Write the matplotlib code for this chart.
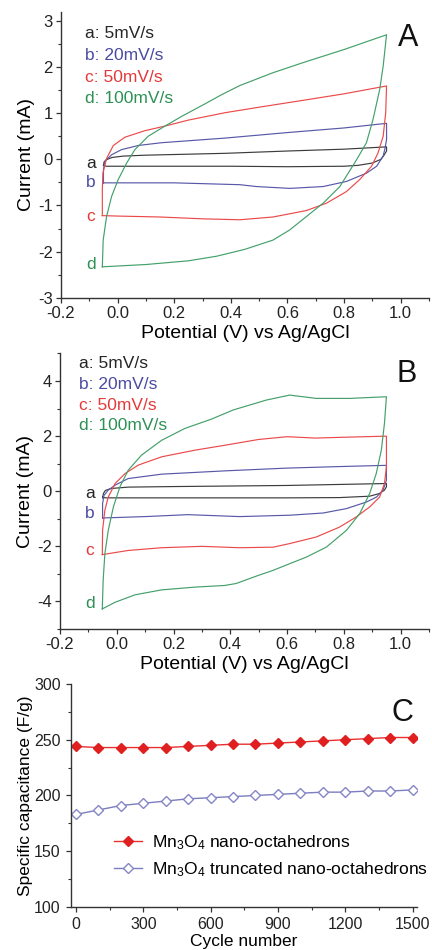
import matplotlib
matplotlib.use("Agg")
import matplotlib.pyplot as plt
from matplotlib.ticker import MultipleLocator
import numpy as np

plt.rcParams['font.family'] = ['Liberation Sans', 'DejaVu Sans']
plt.rcParams['mathtext.fontset'] = 'custom'
plt.rcParams['mathtext.rm'] = 'Liberation Sans'
plt.rcParams['mathtext.it'] = 'Liberation Sans'

# ---------------- Panel A data (potential V, current mA) ----------------
A_a_fwd_v = [-0.05, -0.048, -0.04, -0.02, 0.02, 0.1, 0.38, 0.6, 0.8, 0.95]
A_a_fwd_i = [-0.13, -0.06, -0.01, 0.04, 0.07, 0.09, 0.13, 0.18, 0.22, 0.27]
A_a_rev_v = [0.95, 0.95, 0.94, 0.93, 0.90, 0.85, 0.8, 0.6, 0.4, 0.2, 0.0, -0.04, -0.05]
A_a_rev_i = [0.27, 0.18, 0.08, 0.0, -0.08, -0.13, -0.15, -0.16, -0.15, -0.15, -0.15, -0.15, -0.13]

A_b_fwd_v = [-0.05, -0.05, -0.045, -0.021, 0.014, 0.073, 0.155, 0.379, 0.6, 0.8, 0.95]
A_b_fwd_i = [-0.51, -0.22, -0.04, 0.10, 0.21, 0.30, 0.36, 0.46, 0.58, 0.68, 0.78]
A_b_rev_v = [0.95, 0.95, 0.945, 0.938, 0.915, 0.879, 0.808, 0.726, 0.608, 0.49, 0.432, 0.2, 0.0, -0.05]
A_b_rev_i = [0.78, 0.43, 0.25, 0.07, -0.15, -0.30, -0.48, -0.59, -0.63, -0.59, -0.55, -0.51, -0.51, -0.51]

A_c_fwd_v = [-0.054, -0.054, -0.052, -0.039, -0.015, 0.026, 0.096, 0.167, 0.25, 0.379, 0.5, 0.667, 0.8, 0.95]
A_c_fwd_i = [-1.22, -0.66, -0.30, 0.02, 0.30, 0.48, 0.62, 0.72, 0.85, 1.01, 1.13, 1.29, 1.42, 1.59]
A_c_rev_v = [0.95, 0.947, 0.938, 0.92, 0.897, 0.855, 0.808, 0.738, 0.667, 0.549, 0.432, 0.3, 0.15, 0.0, -0.054]
A_c_rev_i = [1.59, 1.01, 0.50, 0.14, -0.15, -0.44, -0.70, -0.95, -1.11, -1.25, -1.31, -1.29, -1.25, -1.23, -1.22]

A_d_fwd_v = [-0.054, -0.051, -0.039, -0.021, 0.002, 0.032, 0.061, 0.108, 0.167, 0.226, 0.308, 0.367, 0.432, 0.55, 0.667, 0.8, 0.95]
A_d_fwd_i = [-2.33, -1.75, -1.24, -0.80, -0.44, -0.08, 0.21, 0.50, 0.72, 0.93, 1.20, 1.40, 1.60, 1.88, 2.12, 2.38, 2.70]
A_d_rev_v = [0.95, 0.938, 0.926, 0.902, 0.879, 0.844, 0.785, 0.726, 0.667, 0.608, 0.549, 0.45, 0.35, 0.25, 0.1, -0.054]
A_d_rev_i = [2.70, 2.02, 1.52, 0.86, 0.36, -0.01, -0.59, -0.95, -1.24, -1.53, -1.75, -1.95, -2.10, -2.20, -2.28, -2.33]

# ---------------- Panel B data ----------------
B_a_fwd_v = [-0.05, -0.047, -0.04, -0.02, 0.04, 0.2, 0.4, 0.6, 0.8, 0.95]
B_a_fwd_i = [-0.24, -0.08, 0.03, 0.10, 0.15, 0.17, 0.19, 0.21, 0.25, 0.28]
B_a_rev_v = [0.95, 0.95, 0.943, 0.926, 0.891, 0.785, 0.6, 0.4, 0.2, 0.0, -0.04, -0.05]
B_a_rev_i = [0.28, 0.16, 0.04, -0.08, -0.18, -0.23, -0.24, -0.24, -0.24, -0.24, -0.24, -0.22]

B_b_fwd_v = [-0.05, -0.05, -0.045, -0.03, -0.006, 0.04, 0.158, 0.381, 0.6, 0.8, 0.95]
B_b_fwd_i = [-0.97, -0.45, -0.15, 0.04, 0.22, 0.46, 0.62, 0.74, 0.84, 0.90, 0.94]
B_b_rev_v = [0.95, 0.95, 0.938, 0.915, 0.88, 0.809, 0.727, 0.609, 0.433, 0.25, 0.1, -0.05]
B_b_rev_i = [0.94, 0.40, 0.04, -0.21, -0.39, -0.63, -0.79, -0.87, -0.92, -0.85, -0.92, -0.97]

B_c_fwd_v = [-0.051, -0.05, -0.042, -0.03, -0.006, 0.029, 0.076, 0.158, 0.275, 0.381, 0.5, 0.6, 0.7, 0.8, 0.95]
B_c_fwd_i = [-2.30, -1.42, -0.69, -0.21, 0.28, 0.64, 0.95, 1.25, 1.49, 1.67, 1.88, 1.98, 1.93, 1.96, 2.0]
B_c_rev_v = [0.95, 0.95, 0.943, 0.926, 0.891, 0.844, 0.785, 0.703, 0.609, 0.551, 0.433, 0.3, 0.158, 0.04, -0.051]
B_c_rev_i = [2.0, 0.88, 0.28, -0.21, -0.57, -0.93, -1.30, -1.66, -1.90, -2.03, -2.05, -2.0, -2.05, -2.15, -2.30]

B_d_fwd_v = [-0.051, -0.048, -0.042, -0.03, -0.012, 0.011, 0.04, 0.087, 0.158, 0.24, 0.334, 0.41, 0.527, 0.609, 0.703, 0.821, 0.95]
B_d_fwd_i = [-4.27, -3.24, -2.27, -1.42, -0.57, 0.16, 0.76, 1.31, 1.85, 2.28, 2.62, 2.95, 3.31, 3.49, 3.37, 3.37, 3.43]
B_d_rev_v = [0.95, 0.943, 0.932, 0.914, 0.891, 0.856, 0.809, 0.738, 0.668, 0.609, 0.551, 0.5, 0.42, 0.38, 0.275, 0.158, 0.064, -0.006, -0.051]
B_d_rev_i = [3.43, 2.46, 1.49, 0.64, -0.08, -0.81, -1.42, -2.03, -2.39, -2.63, -2.87, -3.05, -3.35, -3.42, -3.48, -3.58, -3.76, -4.03, -4.27]

rate_labels = ['a: 5mV/s', 'b: 20mV/s', 'c: 50mV/s', 'd: 100mV/s']
curve_letters = ['a', 'b', 'c', 'd']
A_letter_i = [-0.09, -0.5, -1.24, -2.29]
B_letter_i = [-0.08, -0.79, -2.15, -4.08]

# ---------------- Panel C data ----------------
cycles = [0, 100, 200, 300, 400, 500, 600, 700, 800, 900, 1000, 1100, 1200, 1300, 1400, 1500]
cap_octa = [244, 243, 243, 243, 243, 244, 245, 246, 246, 247, 248, 249, 250, 251, 252, 252]
cap_trunc = [183, 187, 191, 193, 195, 197, 198, 199, 200, 201, 202, 203, 203, 204, 204, 205]
legend_labels = [r'Mn$_{3}$O$_{4}$ nano-octahedrons', r'Mn$_{3}$O$_{4}$ truncated nano-octahedrons']

line_colors = ['#3c3c3c', '#5858a8', '#ec4a4a', '#44a06a']
text_colors = ['#262626', '#4a4aa2', '#e23a3a', '#2e9055']
spine_col = '#333333'

fig = plt.figure(figsize=(4.32, 9.50), dpi=100)

def style_axes(ax):
    for s in ['top', 'right']:
        ax.spines[s].set_visible(False)
    for s in ['left', 'bottom']:
        ax.spines[s].set_color(spine_col)
        ax.spines[s].set_linewidth(1.0)
    ax.tick_params(which='both', direction='out', colors=spine_col, labelcolor='#222222')
    ax.tick_params(which='major', length=3.5, width=0.9, pad=2.5, labelsize=12)
    ax.tick_params(which='minor', length=2.2, width=0.8)

def cv_panel(rect, curves, ylim, ymaj, ymin, letter_i, legend_xy, legend_dy, panel_letter, panel_xy):
    ax = fig.add_axes(rect)
    style_axes(ax)
    for k, (fv, fi, rv, ri) in enumerate(curves):
        ax.plot(list(fv) + list(rv), list(fi) + list(ri), color=line_colors[k], lw=0.85)
        ax.text(-0.095, letter_i[k], curve_letters[k], color=text_colors[k], fontsize=12.5,
                ha='center', va='center')
        ax.text(legend_xy[0], legend_xy[1] - k * legend_dy, rate_labels[k], color=text_colors[k],
                fontsize=12.5, ha='left', va='center')
    ax.text(panel_xy[0], panel_xy[1], panel_letter, fontsize=22, ha='center', va='center', color='#111111')
    ax.set_xlim(-0.2, 1.1)
    ax.set_ylim(*ylim)
    ax.xaxis.set_major_locator(MultipleLocator(0.2))
    ax.xaxis.set_minor_locator(MultipleLocator(0.1))
    ax.yaxis.set_major_locator(MultipleLocator(ymaj))
    ax.yaxis.set_minor_locator(MultipleLocator(ymin))
    ax.set_xticks([-0.2, 0.0, 0.2, 0.4, 0.6, 0.8, 1.0])
    ax.set_xticklabels(['-0.2', '0.0', '0.2', '0.4', '0.6', '0.8', '1.0'])
    ax.set_xlabel('Potential (V) vs Ag/AgCl', fontsize=14, labelpad=3)
    ax.set_ylabel('Current (mA)', fontsize=14, labelpad=2)
    return ax

axA = cv_panel([0.1412, 0.6866, 0.8519, 0.3011],
               [(A_a_fwd_v, A_a_fwd_i, A_a_rev_v, A_a_rev_i),
                (A_b_fwd_v, A_b_fwd_i, A_b_rev_v, A_b_rev_i),
                (A_c_fwd_v, A_c_fwd_i, A_c_rev_v, A_c_rev_i),
                (A_d_fwd_v, A_d_fwd_i, A_d_rev_v, A_d_rev_i)],
               (-3, 3.2), 1, 0.5, A_letter_i, (-0.115, 2.72), 0.47, 'A', (1.025, 2.62))
axA.set_yticks([-3, -2, -1, 0, 1, 2, 3])
axA.set_yticklabels(['-3', '-2', '-1', '0', '1', '2', '3'])

axB = cv_panel([0.1389, 0.3379, 0.8542, 0.2900],
               [(B_a_fwd_v, B_a_fwd_i, B_a_rev_v, B_a_rev_i),
                (B_b_fwd_v, B_b_fwd_i, B_b_rev_v, B_b_rev_i),
                (B_c_fwd_v, B_c_fwd_i, B_c_rev_v, B_c_rev_i),
                (B_d_fwd_v, B_d_fwd_i, B_d_rev_v, B_d_rev_i)],
               (-5, 5), 2, 1, B_letter_i, (-0.133, 4.62), 0.75, 'B', (1.02, 4.25))
axB.set_yticks([-4, -2, 0, 2, 4])
axB.set_yticklabels(['-4', '-2', '0', '2', '4'])

# ---------------- Panel C ----------------
axC = fig.add_axes([0.1644, 0.0453, 0.8009, 0.2347])
style_axes(axC)
axC.tick_params(which='major', labelsize=11.5, pad=4)
axC.plot(cycles, cap_octa, color='#e83030', lw=1.0, marker='D', ms=4.8,
         mfc='#e02020', mec='#e02020', label=legend_labels[0])
axC.plot(cycles, cap_trunc, color='#7c7cc0', lw=1.0, marker='D', ms=4.8,
         mfc='white', mec='#8585c8', mew=1.0, label=legend_labels[1])
axC.set_xlim(-22, 1520)
axC.set_ylim(100, 300)
axC.xaxis.set_major_locator(MultipleLocator(300))
axC.xaxis.set_minor_locator(MultipleLocator(150))
axC.yaxis.set_major_locator(MultipleLocator(50))
axC.yaxis.set_minor_locator(MultipleLocator(25))
axC.set_xlabel('Cycle number', fontsize=12.5, labelpad=1)
axC.set_ylabel('Specific capacitance (F/g)', fontsize=12.5, labelpad=1)
axC.text(1457, 274, 'C', fontsize=22, ha='center', va='center', color='#111111')
axC.legend(loc='center left', bbox_to_anchor=(0.125, 0.228), frameon=False, fontsize=12.5,
           handlelength=1.6, handletextpad=0.6, labelspacing=0.45, borderpad=0, borderaxespad=0)

fig.savefig('out.png', dpi=100)
